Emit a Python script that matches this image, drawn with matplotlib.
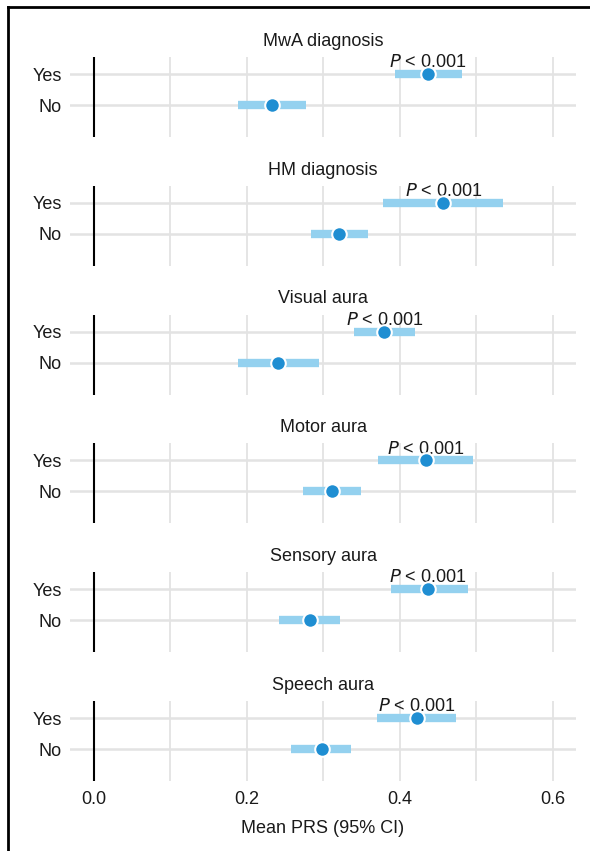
import matplotlib
matplotlib.use('Agg')
import matplotlib.pyplot as plt
from matplotlib.lines import Line2D

plt.rcParams['font.family'] = ['Liberation Sans', 'DejaVu Sans']

panels = ['MwA diagnosis', 'HM diagnosis', 'Visual aura', 'Motor aura',
          'Sensory aura', 'Speech aura']
groups = ['No', 'Yes']

# mean PRS, lower and upper 95% CI: [No, Yes]
means = [[0.233, 0.437], [0.321, 0.457], [0.241, 0.380],
         [0.312, 0.434], [0.283, 0.437], [0.298, 0.422]]
lows = [[0.189, 0.394], [0.284, 0.378], [0.189, 0.340],
        [0.274, 0.372], [0.242, 0.389], [0.258, 0.370]]
highs = [[0.278, 0.482], [0.358, 0.535], [0.294, 0.420],
         [0.349, 0.496], [0.322, 0.489], [0.337, 0.474]]
p_labels = ['$\\it{P}$ < 0.001'] * 6

W, H = 590, 851
fig = plt.figure(figsize=(W / 100, H / 100), dpi=100)

bar_col = '#94D1EF'
dot_col = '#1F8ED2'
grid_col = '#E3E3E3'
txt_col = '#1a1a1a'
fs = 13

left_px, right_px = 70, 576
for i, name in enumerate(panels):
    top_px = 57 + i * 128.8
    ax = fig.add_axes([left_px / W, 1 - (top_px + 80) / H,
                       (right_px - left_px) / W, 80 / H])
    ax.set_xlim(-0.031, 0.6305)
    ax.set_ylim(-1.03, 1.55)
    for gx in [0.1, 0.2, 0.3, 0.4, 0.5, 0.6]:
        ax.axvline(gx, color=grid_col, lw=1.3, zorder=0)
    for gy in [0, 1]:
        ax.axhline(gy, color=grid_col, lw=1.8, zorder=0)
    ax.axvline(0, color='black', lw=1.5, zorder=1)
    for j in range(2):
        ax.plot([lows[i][j], highs[i][j]], [j, j], color=bar_col,
                lw=6, solid_capstyle='butt', zorder=2)
        ax.plot(means[i][j], j, 'o', color=dot_col, ms=10.5,
                mec='white', mew=1.5, zorder=4)
    ax.text(means[i][1], 1.22, p_labels[i], ha='center', va='baseline',
            fontsize=fs, color=txt_col, zorder=3)
    ax.set_title(name, fontsize=fs, color=txt_col, pad=8)
    ax.set_yticks([0, 1])
    ax.set_yticklabels(groups, fontsize=fs, color=txt_col)
    ax.tick_params(axis='both', length=0)
    ax.tick_params(axis='y', pad=6)
    for s in ax.spines.values():
        s.set_visible(False)
    ax.set_xticks([0.0, 0.2, 0.4, 0.6])
    if i == len(panels) - 1:
        ax.set_xticklabels(['0.0', '0.2', '0.4', '0.6'], fontsize=fs,
                           color=txt_col)
        ax.tick_params(axis='x', pad=7)
        ax.set_xlabel('Mean PRS (95% CI)', fontsize=fs, color=txt_col,
                      labelpad=9)
    else:
        ax.set_xticklabels([])

# frame lines at top and left
fig.add_artist(Line2D([8 / W, 1], [1 - 7 / H, 1 - 7 / H], color='black',
                      lw=2, transform=fig.transFigure))
fig.add_artist(Line2D([8 / W, 8 / W], [0, 1 - 7 / H], color='black',
                      lw=2, transform=fig.transFigure))

fig.savefig('out.png', dpi=100)
